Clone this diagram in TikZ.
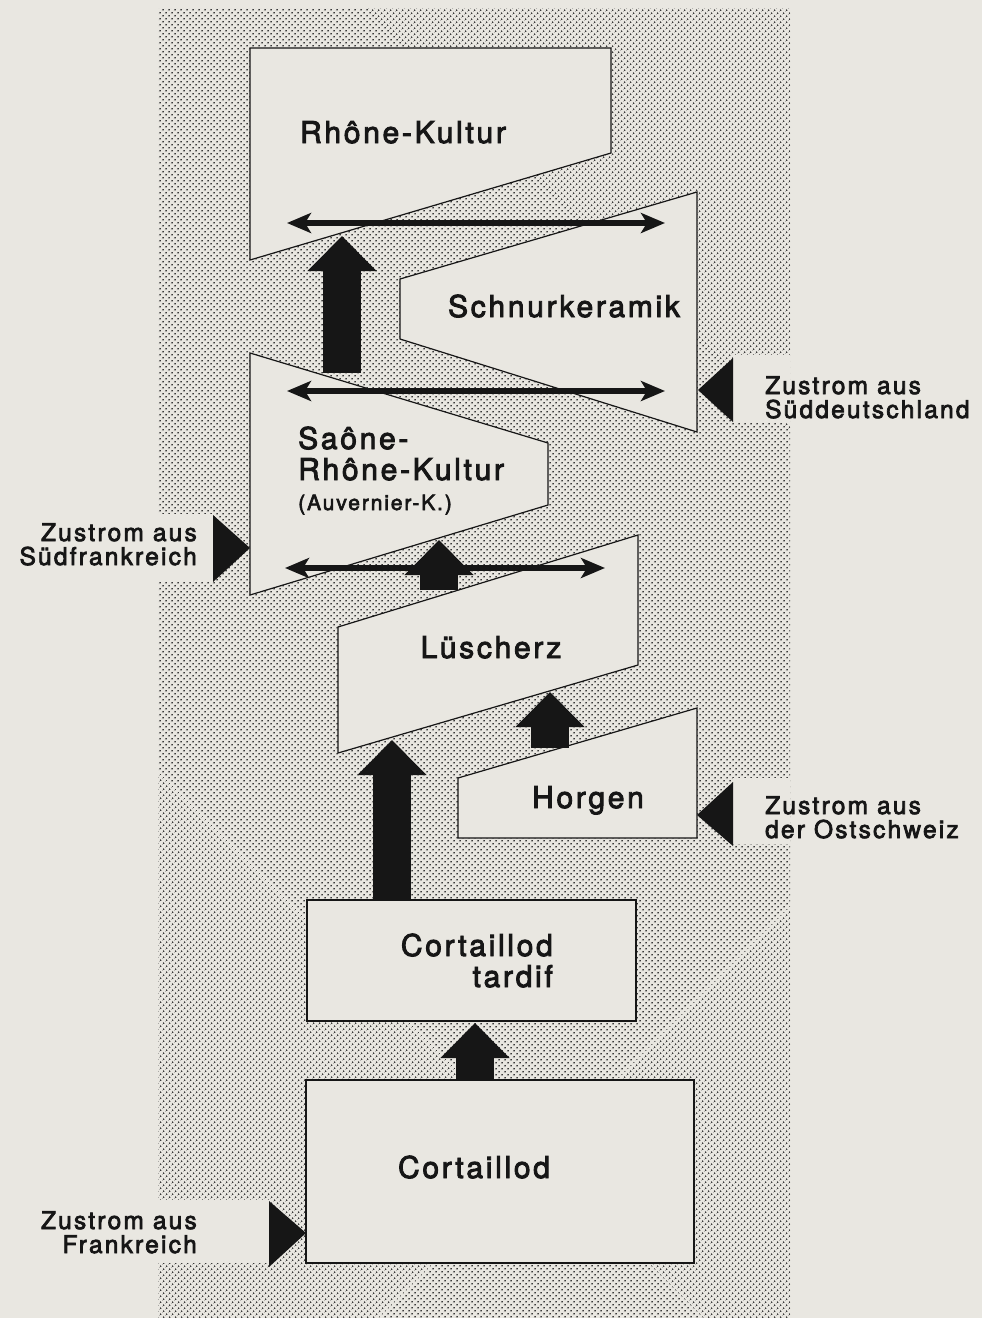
\documentclass[tikz,border=0pt]{standalone}
\usepackage{fontspec}
\setmainfont{TeX Gyre Heros}[LetterSpace=9,FakeBold=3]
\usetikzlibrary{arrows.meta,patterns.meta}
\definecolor{paper}{HTML}{E9E7E1}
\definecolor{ink}{HTML}{161616}

\tikzset{
  culture/.style={draw=ink, line width=1.2pt, fill=paper},
  blockarrow/.style={draw=ink, line width=38pt, -{Triangle[length=35pt,width=67pt]}},
  exchange/.style={draw=ink, line width=5.5pt, <->},
  inflow/.style={fill=ink},
  cultname/.style={font=\fontsize{30}{31}\selectfont, text=ink, inner sep=0pt},
  subname/.style={font=\fontsize{21}{22}\selectfont, text=ink, inner sep=0pt},
  sidename/.style={font=\fontsize{24.5}{24}\selectfont, text=ink, inner sep=0pt}
}

\begin{document}
\begin{tikzpicture}[x=1pt,y=-1pt,>={Stealth[length=24pt,width=20pt,inset=6pt]}]
\useasboundingbox (0,0) rectangle (982,1318);
\fill[paper] (0,0) rectangle (982,1318);
\fill[pattern={Dots[distance=4pt,radius=1.05pt,angle=45]},pattern color=ink!85] (158,8) rectangle (790,1318);
% cleared fields behind the side labels
\fill[paper] (158,514) rectangle (213,582);
\fill[paper] (158,1200) rectangle (270,1263);
\fill[paper] (733,355) rectangle (790,423);
\fill[paper] (733,778) rectangle (790,844);

% cultures
\draw[culture] (250,48) -- (611,48) -- (611,153) -- (250,260) -- cycle;
\draw[culture] (697,192) -- (400,279) -- (400,339) -- (697,432) -- cycle;
\draw[culture] (250,353) -- (548,443) -- (548,505) -- (250,595) -- cycle;
\draw[culture] (638,535) -- (338,627) -- (338,753) -- (638,665) -- cycle;
\draw[culture] (458,778) -- (697,708) -- (697,838) -- (458,838) -- cycle;
\draw[culture] (307,900) rectangle (636,1021);
\draw[culture] (306,1080) rectangle (694,1263);

\node[cultname] (rhone) at (403,143) [anchor=base] {Rhône-Kultur};
\node[cultname] (schnur) at (564,317) [anchor=base] {Schnurkeramik};
\node[cultname, align=left] (saone) at (298,480) [anchor=base west] {Saône-\\Rhône-Kultur};
\node[subname] (auvernier) at (298,510) [anchor=base west] {(Auvernier-K.)};
\node[cultname] (luescherz) at (491,658) [anchor=base] {Lüscherz};
\node[cultname] (horgen) at (588,808) [anchor=base] {Horgen};
\node[cultname, align=right] (tardif) at (553,987) [anchor=base east] {Cortaillod\\tardif};
\node[cultname] (cortaillod) at (474,1178) [anchor=base] {Cortaillod};

% contact points
\coordinate (saoneTop) at (342,373);  \coordinate (rhoneFoot) at (342,236);
\coordinate (luesTop) at (439,590);   \coordinate (saoneFoot) at (439,540);
\coordinate (horgenTop) at (550,748); \coordinate (luesFootR) at (550,692);
\coordinate (tardifTop) at (392,900); \coordinate (luesFootL) at (392,740);
\coordinate (cortTop) at (475,1080);  \coordinate (tardifFoot) at (475,1023);

\draw[blockarrow] (saoneTop) -- (rhoneFoot);
\draw[blockarrow] (luesTop) -- (saoneFoot);
\draw[blockarrow] (horgenTop) -- (luesFootR);
\draw[blockarrow] (tardifTop) -- (luesFootL);
\draw[blockarrow] (cortTop) -- (tardifFoot);

\coordinate (x1l) at (287,223); \coordinate (x1r) at (665,223);
\coordinate (x2l) at (287,391); \coordinate (x2r) at (665,391);
\coordinate (x3l) at (285,568); \coordinate (x3r) at (605,568);
\draw[exchange] (x1l) -- (x1r);
\draw[exchange] (x2l) -- (x2r);
\draw[exchange] (x3l) -- (x3r);

% inflows
\fill[inflow] (213,515) -- (250,548) -- (213,582) -- cycle;
\fill[inflow] (269,1201) -- (306,1233) -- (269,1267) -- cycle;
\fill[inflow] (733,358) -- (698,390) -- (733,422) -- cycle;
\fill[inflow] (733,782) -- (697,815) -- (733,846) -- cycle;

\node[sidename, align=left] (sued) at (765,418) [anchor=base west] {Zustrom aus\\Süddeutschland};
\node[sidename, align=left] (ost) at (765,838) [anchor=base west] {Zustrom aus\\der Ostschweiz};
\node[sidename, align=right] (suedfr) at (197,565) [anchor=base east] {Zustrom aus\\Südfrankreich};
\node[sidename, align=right] (fr) at (197,1253) [anchor=base east] {Zustrom aus\\Frankreich};
\end{tikzpicture}
\end{document}
